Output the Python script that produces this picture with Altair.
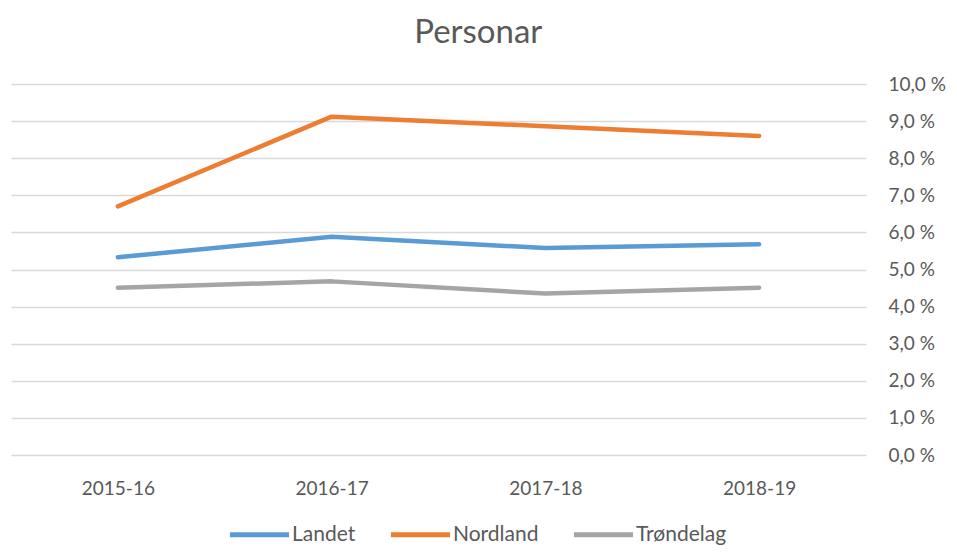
import altair as alt
import pandas as pd

periods = ["2015-16", "2016-17", "2017-18", "2018-19"]
landet = [5.33, 5.88, 5.58, 5.68]
nordland = [6.70, 9.12, 8.86, 8.60]
trondelag = [4.51, 4.68, 4.35, 4.51]
series_names = ["Landet", "Nordland", "Trøndelag"]
series_colors = ["#5B9BD5", "#ED7D31", "#A5A5A5"]
y_ticks = [0, 1, 2, 3, 4, 5, 6, 7, 8, 9, 10]

rows = []
for name, vals in zip(series_names, [landet, nordland, trondelag]):
    for p, v in zip(periods, vals):
        rows.append({"period": p, "serie": name, "value": v})
df = pd.DataFrame(rows)

FONT = "Lato"
TXT = "#595959"

chart = alt.Chart(df).mark_line(
    strokeWidth=4.5, strokeCap="round", strokeJoin="round"
).encode(
    x=alt.X("period:N", sort=periods,
            scale=alt.Scale(type="point", padding=0.5),
            axis=alt.Axis(title=None, labelAngle=0, domain=False, ticks=False,
                          labelPadding=24, labelFontSize=19, labelColor=TXT,
                          labelFont=FONT, grid=False)),
    y=alt.Y("value:Q", scale=alt.Scale(domain=[0, 10], nice=False),
            axis=alt.Axis(title=None, orient="right", values=y_ticks,
                          domain=False, ticks=False, labelPadding=22,
                          labelFontSize=19, labelColor=TXT, labelFont=FONT,
                          labelAlign="left",
                          labelExpr="replace(format(datum.value, '.1f'), '.', ',') + ' %'",
                          grid=True, gridColor="#D9D9D9", gridWidth=1.5)),
    color=alt.Color("serie:N", sort=series_names,
                    scale=alt.Scale(domain=series_names, range=series_colors),
                    legend=alt.Legend(title=None, orient="none", direction="horizontal",
                                      legendX=216, legendY=418, padding=0,
                                      symbolType="stroke", symbolSize=3500,
                                      symbolStrokeWidth=5, labelFontSize=21,
                                      labelColor=TXT, labelFont=FONT,
                                      labelOffset=0, columnPadding=24)),
).properties(
    width=855, height=371,
    title=alt.TitleParams("Personar", fontSize=33, font=FONT, fontWeight="normal",
                          color=TXT, anchor="middle", frame="bounds", offset=25),
    autosize=alt.AutoSizeParams(type="none"),
    padding={"left": 3, "top": 76, "right": 83, "bottom": 91},
).configure_view(stroke=None)

chart.save("out.html", embed_options={"renderer": "svg", "actions": False})
